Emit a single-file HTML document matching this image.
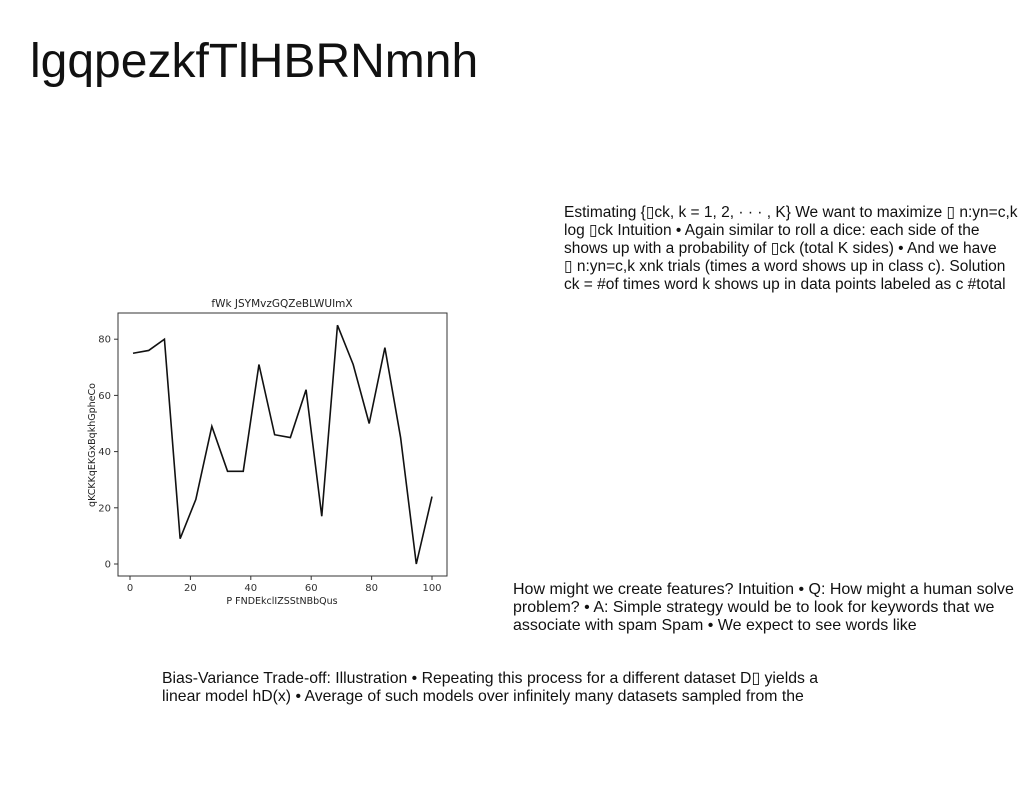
<!DOCTYPE html>
<html><head><meta charset="utf-8"><style>
body{margin:0;width:1024px;height:788px;background:#fff;position:relative;font-family:"Liberation Sans",sans-serif;color:#111;overflow:hidden}
.t{position:absolute;font-size:15.8px;line-height:18px;white-space:nowrap}
</style></head><body>
<div style="position:absolute;left:30px;top:34px;font-size:48px;line-height:56px">lgqpezkfTlHBRNmnh</div>
<div class="t" style="left:564px;top:204px;font-size:15.5px">Estimating {▯ck, k = 1, 2, · · · , K} We want to maximize ▯ n:yn=c,k<br>log ▯ck Intuition • Again similar to roll a dice: each side of the<br>shows up with a probability of ▯ck (total K sides) • And we have<br>▯ n:yn=c,k xnk trials (times a word shows up in class c). Solution<br>ck = #of times word k shows up in data points labeled as c #total</div>
<div class="t" style="left:513px;top:581px;font-size:16px">How might we create features? Intuition • Q: How might a human solve<br>problem? • A: Simple strategy would be to look for keywords that we<br>associate with spam Spam • We expect to see words like</div>
<div class="t" style="left:162px;top:670px">Bias-Variance Trade-off: Illustration • Repeating this process for a different dataset D▯ yields a<br>linear model hD(x) • Average of such models over infinitely many datasets sampled from the</div>
<svg id="c" width="1024" height="788" style="position:absolute;left:0;top:0" font-family="DejaVu Sans, sans-serif"></svg>
<script>
const xs=[1,6.2,11.4,16.6,21.8,27.1,32.3,37.5,42.7,47.9,53.1,58.3,63.5,68.7,73.9,79.2,84.4,89.6,94.8,100];
const ys=[75,76,80,9,23,49,33,33,71,46,45,62,17,85,71,50,77,45,0,24];
const xTicks=[0,20,40,60,80,100];
const yTicks=[0,20,40,60,80];
const svg=document.getElementById('c');const NS='http://www.w3.org/2000/svg';
const X=v=>130+v*3.02, Y=v=>564-v*2.81;
function mk(t,a,txt){const e=document.createElementNS(NS,t);for(const k in a)e.setAttribute(k,a[k]);if(txt!==undefined)e.textContent=txt;svg.appendChild(e);return e;}
const fr=mk('rect',{x:118,y:313,width:329,height:263,fill:'none',stroke:'#333','stroke-width':1});


xTicks.forEach(v=>{const l=mk('line',{x1:X(v),x2:X(v),y1:576,y2:580,stroke:'#333'});


const t=mk('text',{x:X(v),y:591,'font-size':10,'text-anchor':'middle',fill:'#333'},v);

});
yTicks.forEach(v=>{const l=mk('line',{x1:114,x2:118,y1:Y(v),y2:Y(v),stroke:'#333'});


const t=mk('text',{x:111,y:Y(v)+3.5,'font-size':10,'text-anchor':'end',fill:'#333'},v);

});
const p=mk('polyline',{points:xs.map((x,i)=>X(x)+','+Y(ys[i])).join(' '),fill:'none',stroke:'#111','stroke-width':1.6});


const ti=mk('text',{x:282,y:307,'font-size':10.5,'text-anchor':'middle',fill:'#222'},'fWk JSYMvzGQZeBLWUImX');


const xl=mk('text',{x:282,y:604,'font-size':9.5,'text-anchor':'middle',fill:'#222'},'P FNDEkclIZSStNBbQus');


const yl=mk('text',{x:95,y:445,'font-size':9.5,'text-anchor':'middle',fill:'#222',transform:'rotate(-90 95 445)'},'qKCKKqEKGxBqkhGpheCo');


</script>
</body></html>
